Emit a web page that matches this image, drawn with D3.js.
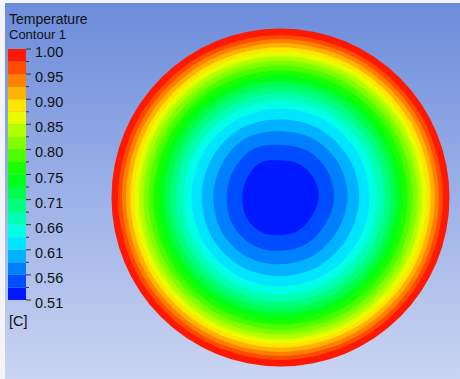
<!DOCTYPE html>
<html>
<head>
<meta charset="utf-8">
<script src="https://cdn.jsdelivr.net/npm/d3@7"></script>
<style>
  html, body { margin: 0; padding: 0; background: #fff; overflow: hidden; }
  text { font-family: "Liberation Sans", Arial, sans-serif; fill: #111; }
</style>
</head>
<body>
<svg id="chart" width="460" height="379"></svg>
<script>
// ---- Contour data -------------------------------------------------------
const tMin = 0.51, tMax = 1.00, nBands = 20;
const titleLines = ["Temperature", "Contour 1"];
const unitLabel = "[C]";
const tickLabels = ["1.00", "0.95", "0.90", "0.85", "0.80", "0.75", "0.71", "0.66", "0.61", "0.56", "0.51"];

// Band colours, coolest (bottom of the legend) to hottest
const bandColors = [
  "#0019ff", "#004cff", "#007fff", "#00b2ff", "#00e5ff",
  "#00ffe5", "#00ffb2", "#00ff7f", "#00ff4c", "#00ff19",
  "#19ff00", "#4cff00", "#7fff00", "#b2ff00", "#e5ff00",
  "#ffe500", "#ffb200", "#ff7f00", "#ff4c00", "#ff1900"
];

// Radius of each contour boundary as a fraction of the wall radius,
// from the innermost (0.5345) outward; the last entry is the wall itself.
const boundaryRadius = [
  0.228, 0.320, 0.399, 0.467, 0.527, 0.574, 0.617, 0.655, 0.688, 0.720,
  0.752, 0.782, 0.811, 0.838, 0.864, 0.889, 0.914, 0.938, 0.962, 1.000
];

// Deformation of the innermost contour, clockwise from the top every 30°
const shapeAngles = [0, 30, 60, 90, 120, 150, 180, 210, 240, 270, 300, 330];
const coreShape   = [0.96, 0.995, 0.995, 0.99, 0.945, 0.975, 0.98, 1.025, 1.025, 0.99, 1.005, 1.04];

// ---- Layout ---------------------------------------------------------------
const W = 460, H = 379;
const cx = 280.5, cy = 197.5, R = 169;
const legend = { x: 8, w: 18, top: 49, bottom: 300 };

const svg = d3.select("#chart");
const defs = svg.append("defs");

const bg = defs.append("linearGradient")
  .attr("id", "bg").attr("x1", 0).attr("y1", 0).attr("x2", 0).attr("y2", 1);
bg.append("stop").attr("offset", "0%").attr("stop-color", "#6c8cdb");
bg.append("stop").attr("offset", "100%").attr("stop-color", "#cad4f2");

svg.append("rect").attr("width", W).attr("height", H).attr("fill", "#f3f4f7");
svg.append("rect").attr("x", 5).attr("y", 3).attr("width", W - 5).attr("height", H - 3)
  .attr("fill", "url(#bg)");

// ---- Scales ---------------------------------------------------------------
const levels = d3.range(nBands + 1).map(i => tMin + i * (tMax - tMin) / nBands);
const step = (tMax - tMin) / nBands;
const color = d3.scaleQuantize().domain([tMin, tMax]).range(bandColors);
const rScale = d3.scaleLinear().domain([0, 1]).range([0, R]);
const yLegend = d3.scaleLinear().domain([tMin, tMax]).range([legend.bottom, legend.top]);

// ---- Contour rings (painted from the wall inward) -------------------------
const ring = d3.lineRadial()
  .angle(d => d.a * Math.PI / 180)
  .radius(d => d.r)
  .curve(d3.curveCatmullRomClosed.alpha(0.5));

const plot = svg.append("g").attr("transform", `translate(${cx},${cy})`);

for (let j = nBands; j >= 1; j--) {
  const br = boundaryRadius[j - 1];
  const fill = color(levels[j - 1] + step / 2);
  if (j === nBands) {
    plot.append("circle").attr("r", rScale(br)).attr("fill", fill);
    continue;
  }
  // deformation fades out away from the core
  const w = Math.max(0, 1 - (br - boundaryRadius[0]) / 0.3);
  const pts = shapeAngles.map((a, i) => ({ a, r: rScale(br) * (1 + (coreShape[i] - 1) * w) }));
  plot.append("path").attr("d", ring(pts)).attr("fill", fill);
}

// ---- Legend -----------------------------------------------------------------
svg.append("text").attr("x", 9).attr("y", 23.5).attr("font-size", 14).text(titleLines[0]);
svg.append("text").attr("x", 9).attr("y", 38.5).attr("font-size", 13).text(titleLines[1]);

const lg = svg.append("g");
lg.selectAll("rect.band")
  .data(d3.range(nBands))
  .join("rect")
  .attr("class", "band")
  .attr("x", legend.x)
  .attr("width", legend.w)
  .attr("y", k => yLegend(levels[k + 1]))
  .attr("height", k => yLegend(levels[k]) - yLegend(levels[k + 1]))
  .attr("fill", k => color(levels[k] + step / 2));

lg.selectAll("line.tick")
  .data(levels)
  .join("line")
  .attr("class", "tick")
  .attr("x1", legend.x + legend.w)
  .attr("x2", (d, i) => legend.x + legend.w + (i % 2 === 0 ? 5 : 3))
  .attr("y1", d => yLegend(d))
  .attr("y2", d => yLegend(d))
  .attr("stroke", "#333")
  .attr("stroke-width", 1);

const labelValues = levels.filter((d, i) => i % 2 === 0).reverse();
lg.selectAll("text.lab")
  .data(labelValues)
  .join("text")
  .attr("class", "lab")
  .attr("x", 35)
  .attr("y", d => yLegend(d) + 8)
  .attr("font-size", 14.5)
  .text((d, i) => tickLabels[i]);

svg.append("text").attr("x", 9).attr("y", 326).attr("font-size", 14.5).text(unitLabel);
</script>
</body>
</html>
